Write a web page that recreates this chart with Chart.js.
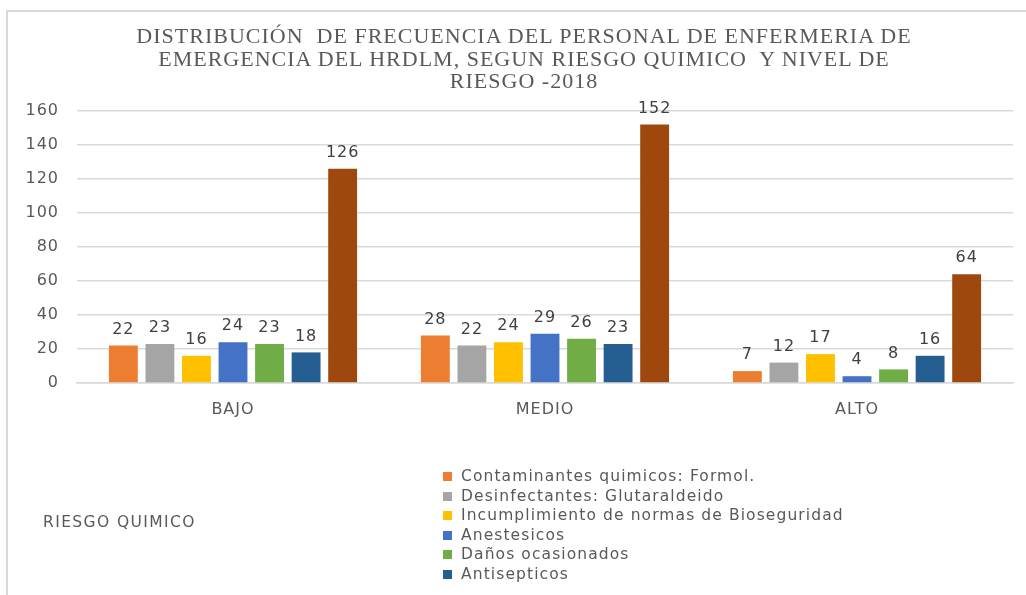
<!DOCTYPE html>
<html>
<head>
<meta charset="utf-8">
<script src="https://cdn.jsdelivr.net/npm/chart.js@4"></script>
<style>
  html, body { margin:0; padding:0; background:#fff; width:1026px; height:595px; overflow:hidden; }
  #wrap { position:relative; width:1026px; height:595px; overflow:hidden; }
  #frameTop { position:absolute; left:6px; top:10px; width:1020px; height:1.5px; background:#d9d9d9; }
  #frameLeft { position:absolute; left:6px; top:10px; width:1.5px; height:585px; background:#d9d9d9; }
  canvas { position:absolute; left:0; top:0; }
  #title { position:absolute; left:0; width:1026px; top:25px; text-align:center; font-family:"Liberation Serif", "Times New Roman", serif; font-size:22px; line-height:22.5px; color:#595959; letter-spacing:1px; padding-left:22px; box-sizing:border-box; }
  #axisTitle { position:absolute; left:43px; top:513px; font-family:"DejaVu Sans", sans-serif; font-size:15.5px; color:#595959; letter-spacing:1.4px; }
  #legend { position:absolute; left:443px; top:467px; font-family:"DejaVu Sans", sans-serif; font-size:15.5px; color:#595959; letter-spacing:1.1px; }
  .li { height:19.5px; line-height:19.5px; white-space:nowrap; }
  .sw { display:inline-block; width:9px; height:9px; margin-right:9px; vertical-align:0px; }
</style>
</head>
<body>
<div id="wrap">
  <div id="frameTop"></div>
  <div id="frameLeft"></div>
  <canvas id="c" width="1026" height="595"></canvas>
  <div id="title">DISTRIBUCIÓN&nbsp; DE FRECUENCIA DEL PERSONAL DE ENFERMERIA DE<br>EMERGENCIA DEL HRDLM, SEGUN RIESGO QUIMICO&nbsp; Y NIVEL DE<br>RIESGO -2018</div>
  <div id="axisTitle">RIESGO QUIMICO</div>
  <div id="legend"></div>
</div>
<script>
const categories = ['BAJO', 'MEDIO', 'ALTO'];
const seriesNames = [
  'Contaminantes quimicos: Formol.',
  'Desinfectantes: Glutaraldeido',
  'Incumplimiento de normas de Bioseguridad',
  'Anestesicos',
  'Daños ocasionados',
  'Antisepticos',
  'Total'
];
const contaminantes = [22, 28, 7];
const desinfectantes = [23, 22, 12];
const incumplimiento = [16, 24, 17];
const anestesicos = [24, 29, 4];
const danos = [23, 26, 8];
const antisepticos = [18, 23, 16];
const total = [126, 152, 64];
const seriesColors = ['#ED7D31', '#A5A5A5', '#FFC000', '#4472C4', '#70AD47', '#255E91', '#9E480E'];
const legendVisibleCount = 6; // the reference's legend is cut off after six entries
const yMin = 0, yMax = 160, yStep = 20;

const seriesValues = [contaminantes, desinfectantes, incumplimiento, anestesicos, danos, antisepticos, total];

const datasets = seriesValues.map((vals, i) => ({
  label: seriesNames[i],
  data: vals,
  backgroundColor: seriesColors[i],
  borderWidth: 0,
  categoryPercentage: 0.82,
  barPercentage: 0.79
}));

const legendEl = document.getElementById('legend');
seriesNames.slice(0, legendVisibleCount).forEach((name, i) => {
  const row = document.createElement('div');
  row.className = 'li';
  const sw = document.createElement('span');
  sw.className = 'sw';
  sw.style.background = seriesColors[i];
  row.appendChild(sw);
  row.appendChild(document.createTextNode(name));
  legendEl.appendChild(row);
});

const spacing = {
  id: 'spacing',
  beforeLayout(chart) { try { chart.ctx.letterSpacing = '1px'; } catch (e) {} },
  beforeDraw(chart) { try { chart.ctx.letterSpacing = '1px'; } catch (e) {} }
};

const dataLabels = {
  id: 'dataLabels',
  afterDatasetsDraw(chart) {
    const ctx = chart.ctx;
    ctx.save();
    ctx.font = '16px "DejaVu Sans", sans-serif';
    ctx.fillStyle = '#404040';
    ctx.textAlign = 'center';
    ctx.textBaseline = 'middle';
    try { ctx.letterSpacing = '1px'; } catch (e) {}
    chart.data.datasets.forEach((ds, di) => {
      const meta = chart.getDatasetMeta(di);
      meta.data.forEach((el, idx) => {
        ctx.fillText(String(ds.data[idx]), el.x, el.y - 16);
      });
    });
    ctx.restore();
  }
};

new Chart(document.getElementById('c'), {
  type: 'bar',
  data: { labels: categories, datasets },
  options: {
    responsive: false,
    animation: false,
    layout: { padding: { top: 111, left: 0, right: 13, bottom: 172 } },
    plugins: {
      legend: { display: false },
      title: { display: false },
      tooltip: { enabled: false }
    },
    scales: {
      x: {
        grid: { display: false },
        border: { display: true, color: '#d9d9d9', width: 1.5 },
        ticks: { color: '#595959', font: { family: '"DejaVu Sans", sans-serif', size: 16 }, padding: 9 },
        afterFit(scale) { scale.height = 40; }
      },
      y: {
        min: yMin, max: yMax,
        grid: { color: '#d9d9d9', lineWidth: 1.5, drawTicks: false },
        border: { display: false },
        ticks: { stepSize: yStep, color: '#595959', font: { family: '"DejaVu Sans", sans-serif', size: 16 }, padding: 18 },
        afterFit(scale) { scale.width = 77; }
      }
    }
  },
  plugins: [spacing, dataLabels]
});
</script>
</body>
</html>
